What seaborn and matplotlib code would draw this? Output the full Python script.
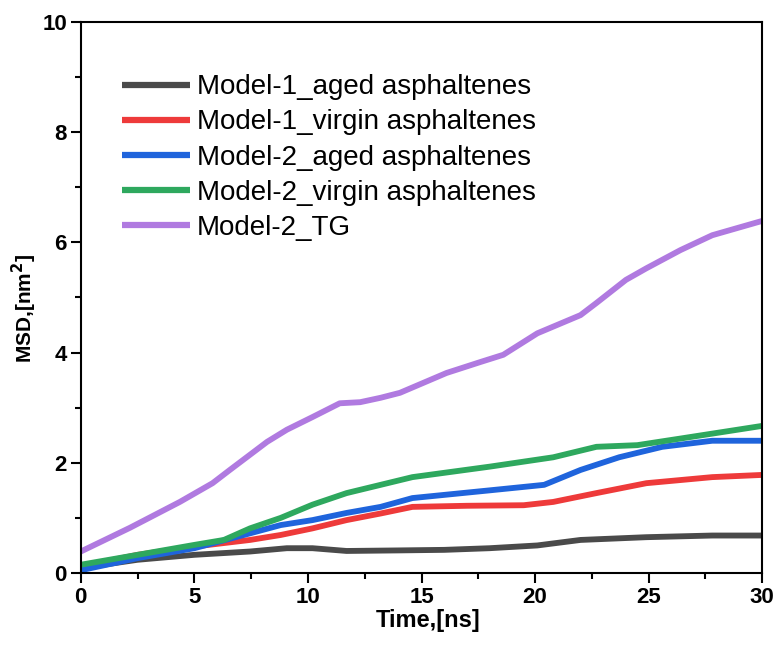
# MSD vs time for asphaltene models
import pandas as pd
import numpy as np
import matplotlib
matplotlib.use("Agg")
import matplotlib.pyplot as plt
import seaborn as sns
from matplotlib.ticker import MultipleLocator

# values
t_m1_aged = [0, 2.5, 5, 7.45, 9.07, 10.2, 11.7, 14, 16, 18, 20.1, 22, 24.9, 27.8, 30]
msd_m1_aged = [0.09, 0.24, 0.33, 0.39, 0.45, 0.45, 0.4, 0.41, 0.42, 0.45, 0.5, 0.6, 0.65, 0.68, 0.68]

t_m1_virgin = [0, 2.5, 5, 7.45, 8.8, 10.2, 11.7, 13.2, 14.6, 17, 19.5, 20.8, 22.7, 24.9, 27.8, 30]
msd_m1_virgin = [0.12, 0.33, 0.48, 0.6, 0.69, 0.81, 0.96, 1.08, 1.2, 1.22, 1.23, 1.29, 1.45, 1.63, 1.74, 1.78]

t_m2_aged = [0, 2.5, 5, 7.45, 8.8, 10.2, 11.7, 13.2, 14.6, 18, 20.4, 22, 23.7, 25.6, 27.8, 30]
msd_m2_aged = [0.05, 0.27, 0.45, 0.72, 0.87, 0.96, 1.09, 1.2, 1.36, 1.5, 1.6, 1.87, 2.1, 2.29, 2.4, 2.4]

t_m2_virgin = [0, 2.5, 5, 6.3, 7.45, 8.8, 10.2, 11.7, 13.2, 14.6, 18, 20.8, 22.7, 24.5, 26.4, 30]
msd_m2_virgin = [0.15, 0.33, 0.51, 0.6, 0.81, 1.0, 1.24, 1.45, 1.6, 1.74, 1.93, 2.1, 2.29, 2.32, 2.44, 2.67]

t_m2_tg = [0, 2.16, 4.36, 5.8, 6.56, 7.3, 8.2, 9.07, 10.2, 11.4, 12.3, 13.2, 14.05, 16.1, 17.6, 18.6,
           20.1, 22, 22.7, 24, 24.9, 26.4, 27.8, 30]
msd_m2_tg = [0.39, 0.82, 1.29, 1.63, 1.87, 2.1, 2.38, 2.6, 2.83, 3.08, 3.1, 3.18, 3.27, 3.63, 3.83, 3.96,
             4.35, 4.68, 4.9, 5.32, 5.53, 5.86, 6.13, 6.39]

labels = ["Model-1_aged asphaltenes", "Model-1_virgin asphaltenes",
          "Model-2_aged asphaltenes", "Model-2_virgin asphaltenes", "Model-2_TG"]
colors = ["#4a4a4a", "#ee3a3a", "#1f64dc", "#2ea85e", "#b07ae0"]

series = [(t_m1_aged, msd_m1_aged), (t_m1_virgin, msd_m1_virgin),
          (t_m2_aged, msd_m2_aged), (t_m2_virgin, msd_m2_virgin),
          (t_m2_tg, msd_m2_tg)]

frames = []
for lab, (t, m) in zip(labels, series):
    frames.append(pd.DataFrame({"Time": t, "MSD": m, "Series": lab}))
df = pd.concat(frames, ignore_index=True)

sns.set_style("ticks")
plt.rcParams['font.family'] = ['Liberation Sans', 'DejaVu Sans']
plt.rcParams['axes.linewidth'] = 1.5
for key in ['text.color', 'axes.labelcolor', 'axes.edgecolor', 'xtick.color', 'ytick.color']:
    plt.rcParams[key] = 'black'

fig = plt.figure(figsize=(7.77, 6.46), dpi=100)
ax = fig.add_axes([0.104, 0.113, 0.877, 0.853])

sns.lineplot(data=df, x="Time", y="MSD", hue="Series", hue_order=labels,
             palette=colors, linewidth=4.2, ax=ax, sort=True)
for ln in ax.get_lines():
    ln.set_solid_joinstyle("round")
    ln.set_solid_capstyle("butt")

ax.set_xlim(0, 30)
ax.set_ylim(0, 10)
ax.xaxis.set_major_locator(MultipleLocator(5))
ax.xaxis.set_minor_locator(MultipleLocator(2.5))
ax.yaxis.set_major_locator(MultipleLocator(2))
ax.yaxis.set_minor_locator(MultipleLocator(1))
ax.tick_params(which="major", direction="out", length=7.5, width=1.5, labelsize=16, pad=2.5)
ax.tick_params(which="minor", direction="out", length=4.5, width=1.5)
for lbl in ax.get_xticklabels() + ax.get_yticklabels():
    lbl.set_fontweight("bold")
for sp in ax.spines.values():
    sp.set_visible(True)
    sp.set_linewidth(1.5)
    sp.set_color("black")

ax.set_xlabel("Time,[ns]", fontsize=17, fontweight="bold")
ax.set_ylabel("MSD,[nm$^\\mathbf{2}$]", fontsize=15, fontweight="bold")
ax.xaxis.set_label_coords(0.51, -0.066)
ax.yaxis.set_label_coords(-0.062, 0.48)
ax.xaxis.label.set_verticalalignment("top")

leg = ax.legend(loc="upper left", bbox_to_anchor=(0.06, 0.905), frameon=False,
                fontsize=20, handlelength=2.45, handletextpad=0.25,
                labelspacing=0.33, borderaxespad=0, borderpad=0)
for line in leg.get_lines():
    line.set_linewidth(4.5)
for txt in leg.get_texts():
    txt.set_color("black")

fig.savefig("out.png", dpi=100)
